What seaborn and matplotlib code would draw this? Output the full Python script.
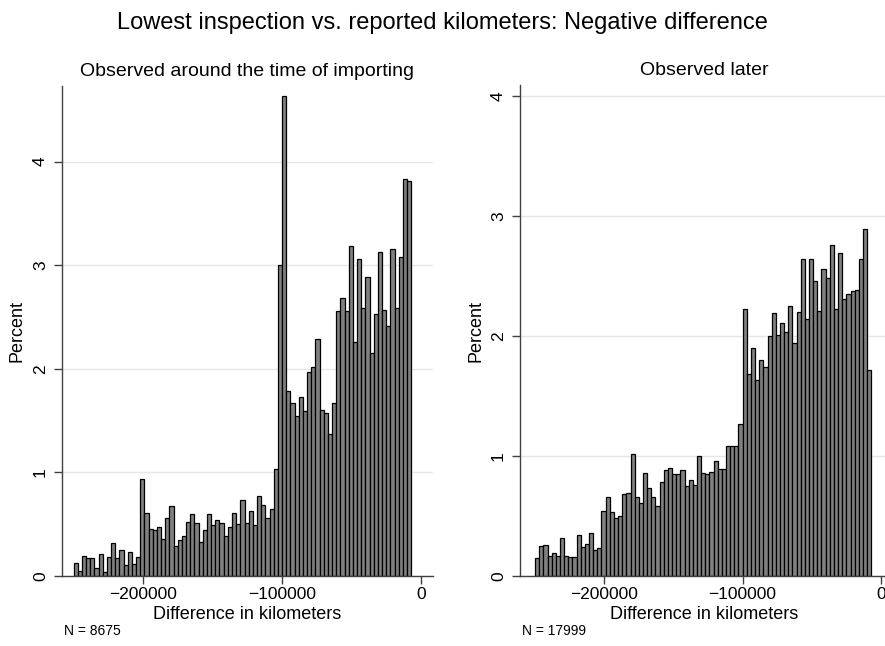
import numpy as np
import pandas as pd
import matplotlib
matplotlib.use("Agg")
import matplotlib.pyplot as plt
import seaborn as sns

# ---------------- data ----------------
BIN_START = -250000
BIN_WIDTH = 3000
N_BINS = 81

pct_import = [
    0.13, 0.05, 0.19, 0.17, 0.17, 0.08, 0.21, 0.04, 0.18, 0.32,
    0.17, 0.25, 0.11, 0.23, 0.12, 0.18, 0.94, 0.61, 0.45, 0.44,
    0.47, 0.36, 0.56, 0.68, 0.29, 0.35, 0.39, 0.52, 0.60, 0.51,
    0.33, 0.44, 0.60, 0.49, 0.54, 0.51, 0.39, 0.47, 0.61, 0.50,
    0.73, 0.51, 0.63, 0.49, 0.77, 0.69, 0.56, 0.65, 1.03, 3.00,
    4.63, 1.79, 1.67, 1.54, 1.73, 1.59, 1.97, 2.02, 2.29, 1.60,
    1.57, 1.37, 1.67, 2.56, 2.68, 2.56, 3.19, 2.26, 3.06, 2.59,
    2.89, 2.15, 2.53, 3.13, 2.57, 2.41, 3.16, 2.59, 3.08, 3.83,
    3.81,
]

pct_later = [
    0.15, 0.25, 0.26, 0.17, 0.19, 0.17, 0.32, 0.17, 0.16, 0.16,
    0.34, 0.24, 0.27, 0.36, 0.22, 0.23, 0.54, 0.66, 0.53, 0.48,
    0.50, 0.68, 0.69, 1.02, 0.66, 0.61, 0.86, 0.73, 0.66, 0.58,
    0.78, 0.88, 0.90, 0.85, 0.85, 0.88, 0.75, 0.80, 0.76, 1.00,
    0.86, 0.85, 0.87, 0.96, 0.89, 0.89, 1.08, 1.08, 1.08, 1.27,
    2.22, 1.68, 1.90, 1.63, 1.80, 1.74, 2.00, 2.19, 2.01, 2.11,
    2.03, 2.25, 1.94, 2.20, 2.64, 2.14, 2.64, 2.46, 2.21, 2.56,
    2.48, 2.76, 2.22, 2.69, 2.31, 2.35, 2.37, 2.38, 2.64, 2.89,
    1.72,
]

x_ticks = [-200000, -100000, 0]
x_tick_labels = ["\u2212200000", "\u2212100000", "0"]
y_ticks = [0, 1, 2, 3, 4]

main_title = "Lowest inspection vs. reported kilometers: Negative difference"
panel_titles = ["Observed around the time of importing", "Observed later"]
n_labels = ["N = 8675", "N = 17999"]
x_label = "Difference in kilometers"
y_label = "Percent"

# ---------------- style ----------------
sns.set_theme(style="white")
plt.rcParams["font.family"] = ["Liberation Sans", "DejaVu Sans"]

edges = [float(BIN_START + BIN_WIDTH * k) for k in range(N_BINS + 1)]
centers = [BIN_START + BIN_WIDTH * (k + 0.5) for k in range(N_BINS)]

W, H = 885, 646
fig = plt.figure(figsize=(W / 100, H / 100), dpi=100)
fig.patch.set_facecolor("white")

ax1 = fig.add_axes([62 / W, 1 - 576 / H, (433 - 62) / W, (576 - 86) / H])
ax2 = fig.add_axes([520 / W, 1 - 576 / H, (889 - 520) / W, (576 - 85) / H])

panels = [
    (ax1, pct_import, (-258300, 8600), (0, 4.73), -0.0997, 64),
    (ax2, pct_later, (-260900, 5800), (0, 4.09), -0.0949, 522),
]

axis_col = "#404040"
for i, (ax, pct, xl, yl, ylab_x, n_x) in enumerate(panels):
    ax.set_facecolor("white")
    df = pd.DataFrame({"diff": centers, "pct": pct})
    sns.histplot(data=df, x="diff", weights="pct", bins=edges, ax=ax,
                 color="#808080", edgecolor="black", linewidth=0.9,
                 alpha=1.0)
    ax.set_xlim(*xl)
    ax.set_ylim(*yl)
    ax.set_axisbelow(True)
    ax.yaxis.grid(True, color="#e6e6e6", linewidth=1.0)
    ax.xaxis.grid(False)
    for s in ["top", "right"]:
        ax.spines[s].set_visible(False)
    for s in ["left", "bottom"]:
        ax.spines[s].set_color(axis_col)
        ax.spines[s].set_linewidth(1.0)
    ax.set_xticks(x_ticks)
    ax.set_xticklabels(x_tick_labels)
    ax.set_yticks(y_ticks)
    ax.set_yticklabels([str(v) for v in y_ticks])
    ax.tick_params(axis="both", direction="out", length=6, width=1,
                   color=axis_col, labelsize=12.5, labelcolor="black",
                   bottom=True, left=True)
    ax.tick_params(axis="x", pad=2)
    ax.tick_params(axis="y", labelrotation=90, pad=4)
    for lab in ax.get_yticklabels():
        lab.set_va("center")
    ax.set_xlabel(x_label, fontsize=13, color="black")
    ax.xaxis.set_label_coords(0.5, -0.062)
    ax.set_ylabel(y_label, fontsize=13, color="black")
    ax.yaxis.set_label_coords(ylab_x, 0.5)
    ax.set_title(panel_titles[i], fontsize=14, pad=7, color="black")
    fig.text(n_x / W, 1 - 631 / H, n_labels[i], fontsize=10,
             ha="left", va="center", color="black")

fig.text(0.5, 1 - 23 / H, main_title, fontsize=17, ha="center",
         va="center", color="black")

fig.savefig("out.png", dpi=100, facecolor="white")
